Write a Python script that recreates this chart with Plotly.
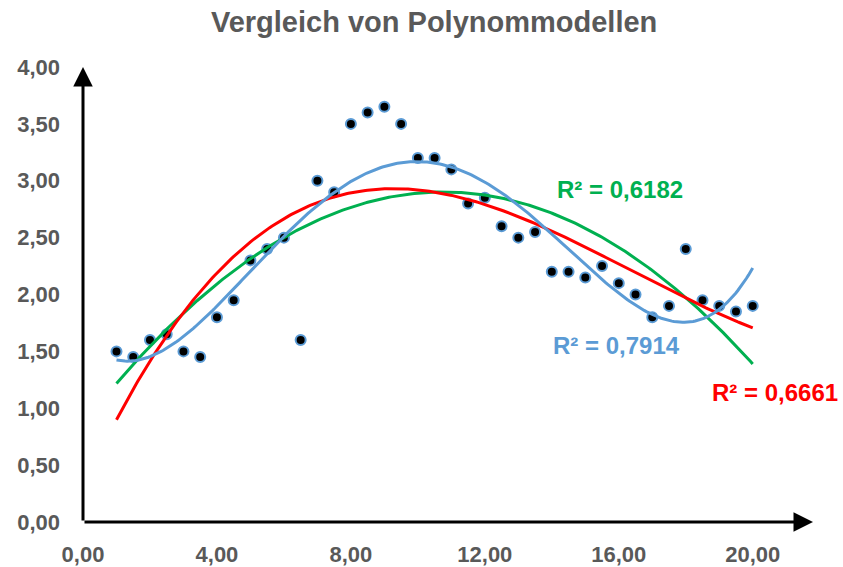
import numpy as np
import plotly.graph_objects as go

# Messwerte
x_values = [1.0, 1.5, 2.0, 2.5, 3.0, 3.5, 4.0, 4.5, 5.0, 5.5, 6.0, 6.5, 7.0,
            7.5, 8.0, 8.5, 9.0, 9.5, 10.0, 10.5, 11.0, 11.5, 12.0, 12.5, 13.0,
            13.5, 14.0, 14.5, 15.0, 15.5, 16.0, 16.5, 17.0, 17.5, 18.0, 18.5,
            19.0, 19.5, 20.0]
y_values = [1.50, 1.45, 1.60, 1.65, 1.50, 1.45, 1.80, 1.95, 2.30, 2.40, 2.50,
            1.60, 3.00, 2.90, 3.50, 3.60, 3.65, 3.50, 3.20, 3.20, 3.10, 2.80,
            2.85, 2.60, 2.50, 2.55, 2.20, 2.20, 2.15, 2.25, 2.10, 2.00, 1.80,
            1.90, 2.40, 1.95, 1.90, 1.85, 1.90]

# Polynomgrad, Farbe und Bestimmtheitsmaß der Trendlinien
model_degrees = [2, 3, 4]
model_colors = ["#00B050", "#FF0000", "#5B9BD5"]
model_r2_labels = ["R² = 0,6182", "R² = 0,6661", "R² = 0,7914"]

x_ticks = [0, 4, 8, 12, 16, 20]
y_ticks = [0, 0.5, 1.0, 1.5, 2.0, 2.5, 3.0, 3.5, 4.0]

FONT = "Liberation Sans, Arial, sans-serif"
GREY = "#595959"

fig = go.Figure()

fig.add_trace(go.Scatter(
    x=x_values, y=y_values, mode="markers",
    marker=dict(size=10, color="black", line=dict(color="#5B9BD5", width=2)),
    showlegend=False, hoverinfo="x+y",
))

# Trendlinien (Polynomregression, Excel-Stil)
xs = np.array(x_values)
ys = np.array(y_values)
x_fit = np.linspace(xs.min(), xs.max(), 300)
for deg, col in zip(model_degrees, model_colors):
    coeffs = np.polyfit(xs, ys, deg)
    fig.add_trace(go.Scatter(
        x=x_fit, y=np.polyval(coeffs, x_fit), mode="lines",
        line=dict(color=col, width=3), showlegend=False, hoverinfo="skip",
    ))

# R²-Beschriftungen
label_pos = [(16.03, 2.925), (20.66, 1.137), (15.92, 1.55)]
for (lx, ly), col, txt in zip(label_pos, model_colors, model_r2_labels):
    fig.add_annotation(x=lx, y=ly, text=f"<b>{txt}</b>", showarrow=False,
                       font=dict(family=FONT, size=24, color=col))

# Achsen mit Pfeilspitzen
X_END = 21.8
Y_END = 4.0
fig.add_annotation(x=X_END, y=0, ax=0, ay=0, xref="x", yref="y",
                   axref="x", ayref="y", text="", showarrow=True,
                   arrowhead=2, arrowsize=1.3, arrowwidth=3, arrowcolor="black")
fig.add_annotation(x=0, y=Y_END, ax=0, ay=0, xref="x", yref="y",
                   axref="x", ayref="y", text="", showarrow=True,
                   arrowhead=2, arrowsize=1.3, arrowwidth=3, arrowcolor="black")

tick_font = dict(family=FONT, size=22, color=GREY, weight="bold")

fig.update_layout(
    width=843, height=567,
    margin=dict(l=83, r=30, t=67, b=45),
    paper_bgcolor="white", plot_bgcolor="white",
    separators=",.",
    title=dict(text="<b>Vergleich von Polynommodellen</b>",
               x=0.515, xanchor="center", y=0.961, yanchor="middle",
               font=dict(family=FONT, size=29, color=GREY)),
    xaxis=dict(range=[0, X_END], tickvals=x_ticks, tickformat=".2f",
               showgrid=False, zeroline=False, showline=False,
               ticks="", ticklabelstandoff=17, automargin=False,
               tickfont=tick_font),
    yaxis=dict(range=[0, Y_END], tickvals=y_ticks, tickformat=".2f",
               showgrid=False, zeroline=False, showline=False,
               ticks="", ticklabelstandoff=22, automargin=False,
               tickfont=tick_font),
)

fig.write_html("out.html")
